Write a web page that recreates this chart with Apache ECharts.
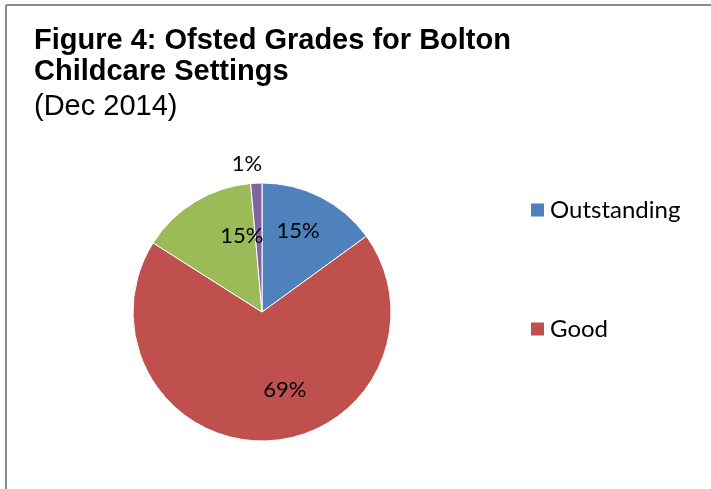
<!DOCTYPE html>
<html><head><meta charset="utf-8">
<script src="https://cdn.jsdelivr.net/npm/echarts@6/dist/echarts.min.js"></script>
<style>html,body{margin:0;padding:0;background:#fff}#c{width:711px;height:489px}</style>
</head><body><div id="c"></div>
<script>
const categories = ['Outstanding', 'Good', 'Requires Improvement', 'Inadequate'];
const values = [15, 69, 14.6, 1.4];
const colors = ['#4F81BD', '#C0504D', '#9BBB59', '#8064A2'];
const legendShown = ['Outstanding', 'Good'];
// label nudges (style only), per slice
const labelNudge = [[-6, 1], [20, -15], [28, 3], [11, -15]];

const chart = echarts.init(document.getElementById('c'));
const data = categories.map((n, i) => ({ name: n, value: values[i], itemStyle: { color: colors[i] } }));
const labelData = categories.map((n, i) => {
  const d = { name: n, value: values[i] };
  if (values[i] < 5) d.label = { position: 'outside' };
  return d;
});
const fmt = p => Math.round(p.percent) + '%';
chart.setOption({
  animation: false,
  title: {
    text: 'Figure 4: Ofsted Grades for Bolton\nChildcare Settings',
    subtext: '(Dec 2014)',
    left: 34, top: 25, itemGap: 4, padding: 0,
    textStyle: { fontFamily: 'Liberation Sans', fontWeight: 'bold', fontSize: 29, color: '#000', lineHeight: 31 },
    subtextStyle: { fontFamily: 'Liberation Sans', fontSize: 29, color: '#000', lineHeight: 31 }
  },
  legend: {
    orient: 'vertical', left: 529, top: 198, itemGap: 95, padding: 0,
    itemWidth: 15, itemHeight: 15, icon: 'rect',
    data: legendShown,
    textStyle: { fontFamily: 'Lato', fontSize: 24, color: '#000' }
  },
  graphic: [
    { type: 'line', shape: { x1: 6, y1: 5, x2: 711, y2: 5 }, style: { stroke: '#8c8c8c', lineWidth: 2 } },
    { type: 'line', shape: { x1: 6, y1: 5, x2: 6, y2: 489 }, style: { stroke: '#8c8c8c', lineWidth: 2 } }
  ],
  series: [
    {
      type: 'pie', center: [262, 312], radius: [0, 129], startAngle: 90, clockwise: true,
      data: data,
      itemStyle: { borderColor: '#fff', borderWidth: 1 },
      label: { show: false }, labelLine: { show: false }, silent: true
    },
    {
      type: 'pie', center: [262, 312], radius: [50, 129], startAngle: 90, clockwise: true,
      data: labelData, silent: true,
      itemStyle: { color: 'rgba(0,0,0,0)' },
      label: { show: true, position: 'inside', formatter: fmt, fontFamily: 'Lato', fontSize: 22, color: '#000' },
      labelLine: { show: false, length: 4, length2: 0 },
      labelLayout: p => ({ dx: labelNudge[p.dataIndex][0], dy: labelNudge[p.dataIndex][1] })
    }
  ]
});
</script></body></html>
